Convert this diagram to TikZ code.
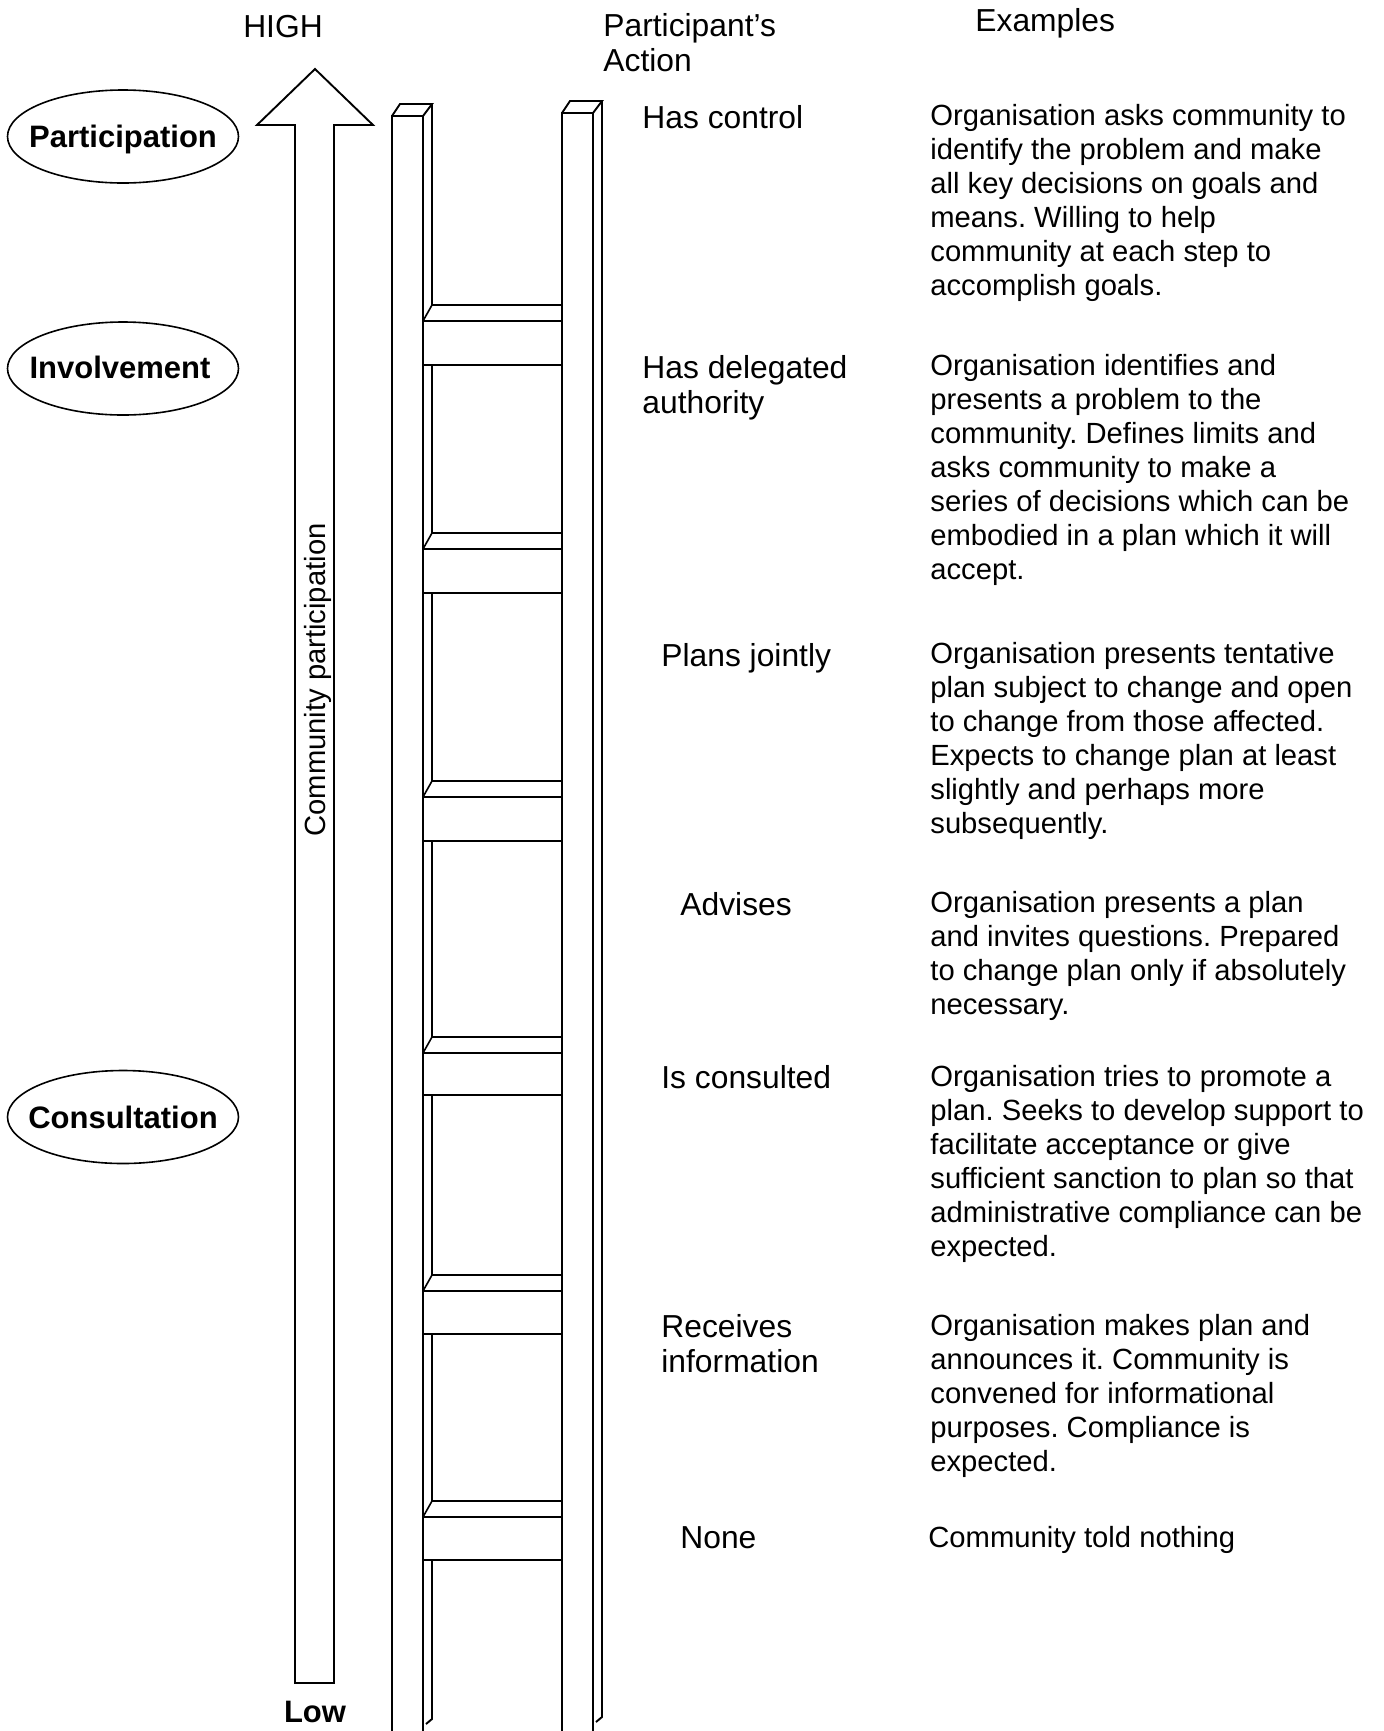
\documentclass[tikz,border=0pt]{standalone}
\usepackage{fontspec}
\setmainfont{Liberation Sans}
\frenchspacing
\newcommand\exfont{\fontsize{14.6pt}{17pt}\selectfont}
\newcommand\labfont{\fontsize{15.9pt}{17.75pt}\selectfont}
\newcommand\levfont{\fontsize{15.5pt}{18pt}\selectfont\bfseries}
\begin{document}
\begin{tikzpicture}[x=0.5pt,y=-0.5pt,
  ln/.style={line width=0.95pt, line join=miter},
  thin ln/.style={line width=0.8pt},
  extext/.style={anchor=north west, inner sep=0pt, font=\exfont, align=left,
    execute at begin node={\rule{0pt}{12pt}}},
  labtext/.style={anchor=north west, inner sep=0pt, font=\labfont, align=left,
    execute at begin node={\rule{0pt}{13pt}}},
  levtext/.style={anchor=base, inner sep=0pt, font=\levfont},
  level/.style={thin ln}
]
% page
\fill[white] (0,0) rectangle (1383,1731);
\useasboundingbox (0,0) rectangle (1383,1731);

% headings (top of text block = baseline - 26)
\node[labtext, anchor=base] (high) at (283,37) {HIGH};
\node[labtext] (action) at (603,13) {Participant’s\\Action};
\node[labtext, anchor=base west] (examples) at (975,31) {Examples};

% the big upward arrow
\draw[ln] (315,69) -- (373,125) -- (334,125) -- (334,1683) -- (295,1683)
  -- (295,125) -- (257,125) -- cycle;
\node[inner sep=0pt, font=\exfont, rotate=90, anchor=base] (cp) at (325,680)
  {Community participation};
\node[levtext] (low) at (315,1722) {Low};

% levels
\node[levtext] (lp) at (123,147) {Participation};
\draw[level] (123,136.5) ellipse [x radius=57.75pt, y radius=23.25pt];
\node[levtext] (li) at (120,378) {Involvement};
\draw[level] (123,368.5) ellipse [x radius=57.75pt, y radius=23.25pt];
\node[levtext] (lc) at (123,1128) {Consultation};
\draw[level] (123,1117) ellipse [x radius=57.75pt, y radius=23.25pt];

% ladder: left rail
\draw[ln] (392,1731) -- (392,116) -- (423,116) -- (423,1731);
\draw[ln] (392,116) -- (400,104) -- (432,104) -- (423,116);
% ladder: right rail
\draw[ln] (562,1731) -- (562,113) -- (593,113) -- (593,1731);
\draw[ln] (562,113) -- (570,101) -- (602,101) -- (593,113);
\draw[ln] (602,101) -- (602,1717) -- (596,1722);
% ladder: rungs and the hidden parts of the left rail's back edge
\draw[ln] (432,104) -- (432,305);
\foreach \f/\b/\n in {321/365/549, 549/593/797, 797/841/1053,
                      1053/1095/1291, 1291/1334/1517, 1517/1560/0} {
  \pgfmathsetmacro\k{\f-16}
  \draw[ln] (432,\k) -- (562,\k);
  \draw[ln] (423,\f) -- (562,\f);
  \draw[ln] (423,\b) -- (562,\b);
  \draw[thin ln] (423,\f) -- (432,\k);
  \ifnum\n=0
    \draw[ln] (432,\b) -- (432,1719) -- (426,1724);
  \else
    \pgfmathsetmacro\nk{\n-16}
    \draw[ln] (432,\b) -- (432,\nk);
  \fi
}

% participant's action
\node[labtext] (a1) at (642,102) {Has control};
\node[labtext] (a2) at (642,355) {Has delegated\\authority};
\node[labtext] (a3) at (661,640) {Plans jointly};
\node[labtext] (a4) at (680,889) {Advises};
\node[labtext] (a5) at (661,1062) {Is consulted};
\node[labtext] (a6) at (661,1314) {Receives\\information};
\node[labtext] (a7) at (680,1522) {None};

% examples (top of text block = baseline - 24)
\node[extext] (e1) at (930,104) {Organisation asks community to\\identify the problem and make\\all key decisions on goals and\\means. Willing to help\\community at each step to\\accomplish goals.};
\node[extext] (e2) at (930,354) {Organisation identifies and\\presents a problem to the\\community. Defines limits and\\asks community to make a\\series of decisions which can be\\embodied in a plan which it will\\accept.};
\node[extext] (e3) at (930,642) {Organisation presents tentative\\plan subject to change and open\\to change from those affected.\\Expects to change plan at least\\slightly and perhaps more\\subsequently.};
\node[extext] (e4) at (930,891) {Organisation presents a plan\\and invites questions. Prepared\\to change plan only if absolutely\\necessary.};
\node[extext] (e5) at (930,1065) {Organisation tries to promote a\\plan. Seeks to develop support to\\facilitate acceptance or give\\sufficient sanction to plan so that\\administrative compliance can be\\expected.};
\node[extext] (e6) at (930,1314) {Organisation makes plan and\\announces it. Community is\\convened for informational\\purposes. Compliance is\\expected.};
\node[extext] (e7) at (928,1523) {Community told nothing};
\end{tikzpicture}
\end{document}
